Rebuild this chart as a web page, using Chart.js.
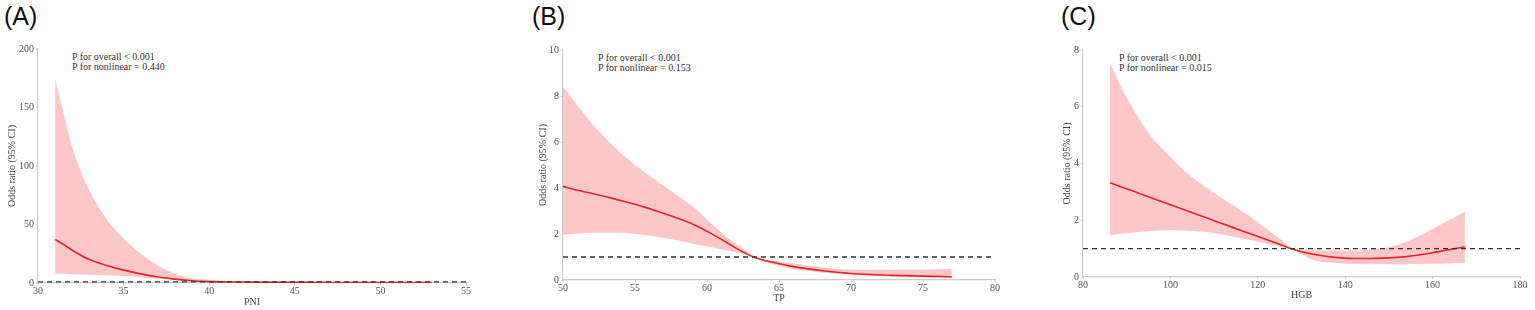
<!DOCTYPE html>
<html>
<head>
<meta charset="utf-8">
<script src="https://cdn.jsdelivr.net/npm/chart.js@4"></script>
<style>
  body { margin: 0; background: #fff; width: 1535px; height: 310px; position: relative; overflow: hidden; }
  .panel { position: absolute; top: 0; }
  .tag { position: absolute; top: 1px; font: 25px "Liberation Sans", Arial, sans-serif; color: #111; line-height: 30px; }
  .note { position: absolute; font: 10px "Liberation Serif", serif; color: #333; line-height: 10px; white-space: nowrap; }
</style>
</head>
<body>
<div class="tag" style="left:4px">(A)</div>
<div class="tag" style="left:532px">(B)</div>
<div class="tag" style="left:1061px">(C)</div>

<div class="note" style="left:72px;top:52px">P for overall &lt; 0.001<br>P for nonlinear = 0.440</div>
<div class="note" style="left:598px;top:53px">P for overall &lt; 0.001<br>P for nonlinear = 0.153</div>
<div class="note" style="left:1119px;top:53px">P for overall &lt; 0.001<br>P for nonlinear = 0.015</div>

<canvas id="chartA" class="panel" style="left:0px" width="480" height="310"></canvas>
<canvas id="chartB" class="panel" style="left:490px" width="520" height="310"></canvas>
<canvas id="chartC" class="panel" style="left:1010px" width="525" height="310"></canvas>

<script>
// (A) PNI
const pniX     = [31, 31.6, 32, 33, 34, 35, 36, 37, 38, 39, 40, 42, 44, 46, 48, 50, 53];
const pniOR    = [37.2, 32, 28, 20, 15, 11, 7.8, 5.2, 3.3, 1.9, 1.2, 0.8, 0.6, 0.5, 0.45, 0.4, 0.35];
const pniUpper = [175, 139, 116, 79, 55, 38, 25, 15, 8, 4, 2.6, 1.6, 1.3, 1.15, 1.1, 1.05, 1.0];
const pniLower = [8, 7.8, 7.5, 7, 6.5, 6, 5, 3.8, 2.5, 1.3, 0.7, 0.4, 0.3, 0.22, 0.18, 0.14, 0.1];
const pniXTicks = [30, 55];
const pniYTicks = [0, 200];

// (B) TP
const tpX     = [50, 51, 52.1, 53.3, 54.4, 55.6, 56.75, 57.9, 59.1, 60.2, 61.4, 62.5, 63.3, 64.5, 66, 68, 70, 73, 77];
const tpOR    = [4.07, 3.9, 3.75, 3.57, 3.39, 3.18, 2.95, 2.7, 2.4, 2.05, 1.62, 1.22, 0.98, 0.78, 0.58, 0.4, 0.28, 0.2, 0.14];
const tpUpper = [8.4, 7.6, 6.73, 5.95, 5.3, 4.72, 4.2, 3.7, 3.15, 2.51, 1.86, 1.35, 1.02, 0.85, 0.72, 0.55, 0.45, 0.45, 0.48];
const tpLower = [1.98, 2.02, 2.05, 2.05, 2.04, 1.97, 1.86, 1.73, 1.57, 1.43, 1.28, 1.13, 0.96, 0.7, 0.48, 0.33, 0.22, 0.15, 0.1];
const tpXTicks = [50, 80];
const tpYTicks = [0, 10];

// (C) HGB
const hgbX     = [86.2, 88.5, 91.6, 95.4, 99.2, 103, 106.8, 110.6, 114.4, 118.3, 122.1, 125.9, 127.8, 132.7, 137, 141.8, 146, 151.8, 155.6, 159.4, 163, 167.4];
const hgbOR    = [3.32, 3.19, 3.02, 2.8, 2.59, 2.38, 2.17, 1.95, 1.74, 1.52, 1.31, 1.1, 0.99, 0.8, 0.7, 0.65, 0.65, 0.69, 0.75, 0.84, 0.94, 1.06];
const hgbUpper = [7.53, 6.77, 5.88, 5.0, 4.35, 3.77, 3.3, 2.9, 2.52, 2.12, 1.68, 1.24, 1.0, 0.94, 0.93, 0.93, 0.97, 1.12, 1.35, 1.65, 1.95, 2.3];
const hgbLower = [1.47, 1.52, 1.57, 1.62, 1.65, 1.64, 1.6, 1.53, 1.42, 1.3, 1.17, 1.05, 0.98, 0.6, 0.5, 0.46, 0.45, 0.45, 0.46, 0.47, 0.48, 0.5];
const hgbXTicks = [80, 180];
const hgbYTicks = [0, 8];

const refOR = 1;

const pts = (xs, ys) => xs.map((x, i) => ({ x: x, y: ys[i] }));

function makeChart(id, o) {
  const axisColor = '#cccccc';
  const tickFont = { family: '"Liberation Serif", serif', size: 10 };
  new Chart(document.getElementById(id), {
    type: 'line',
    data: {
      datasets: [
        {
          data: [{ x: o.xRange[0], y: refOR }, { x: o.xRange[1], y: refOR }],
          borderColor: '#333333', borderWidth: 1.4, borderDash: [5, 4],
          pointRadius: 0, fill: false, order: 0, clip: false
        },
        {
          data: pts(o.x, o.or),
          borderColor: '#e3242b', borderWidth: 1.6,
          pointRadius: 0, fill: false, order: 1, cubicInterpolationMode: 'monotone'
        },
        {
          data: pts(o.x, o.upper),
          borderWidth: 0, borderColor: 'rgba(0,0,0,0)',
          backgroundColor: 'rgba(253, 196, 196, 0.95)',
          pointRadius: 0, fill: '+1', order: 2, cubicInterpolationMode: 'monotone'
        },
        {
          data: pts(o.x, o.lower),
          borderWidth: 0, borderColor: 'rgba(0,0,0,0)',
          pointRadius: 0, fill: false, order: 3, cubicInterpolationMode: 'monotone'
        }
      ]
    },
    options: {
      responsive: false,
      animation: false,
      devicePixelRatio: 1,
      layout: { padding: o.pad },
      plugins: { legend: { display: false }, tooltip: { enabled: false } },
      scales: {
        x: {
          type: 'linear',
          min: o.xRange[0], max: o.xRange[1],
          afterFit: s => { s.height = o.xH; },
          grid: { drawOnChartArea: false, drawTicks: true, tickLength: 2, color: axisColor },
          border: { color: axisColor, width: 1.2 },
          ticks: { stepSize: o.xStep, color: '#555', font: tickFont, padding: 0, maxRotation: 0 },
          title: { display: true, text: o.xTitle, color: '#444', font: tickFont, padding: 0 }
        },
        y: {
          min: o.yRange[0], max: o.yRange[1],
          afterFit: s => { s.width = o.yW; },
          grid: { drawOnChartArea: false, drawTicks: true, tickLength: 2, color: axisColor },
          border: { color: axisColor, width: 1.2 },
          ticks: { stepSize: o.yStep, color: '#555', font: tickFont, padding: 2 },
          title: { display: true, text: 'Odds ratio (95% CI)', color: '#444', font: tickFont, padding: 0 }
        }
      }
    }
  });
}

makeChart('chartA', {
  x: pniX, or: pniOR, upper: pniUpper, lower: pniLower,
  xRange: pniXTicks, yRange: pniYTicks, xStep: 5, yStep: 50, xTitle: 'PNI',
  pad: { left: 6, top: 49, right: 14, bottom: 2 }, yW: 32, xH: 25
});

makeChart('chartB', {
  x: tpX, or: tpOR, upper: tpUpper, lower: tpLower,
  xRange: tpXTicks, yRange: tpYTicks, xStep: 5, yStep: 2, xTitle: 'TP',
  pad: { left: 47, top: 50, right: 15, bottom: 6 }, yW: 26, xH: 24
});

makeChart('chartC', {
  x: hgbX, or: hgbOR, upper: hgbUpper, lower: hgbLower,
  xRange: hgbXTicks, yRange: hgbYTicks, xStep: 20, yStep: 2, xTitle: 'HGB',
  pad: { left: 51, top: 50, right: 15, bottom: 9 }, yW: 22, xH: 24
});
</script>
</body>
</html>
